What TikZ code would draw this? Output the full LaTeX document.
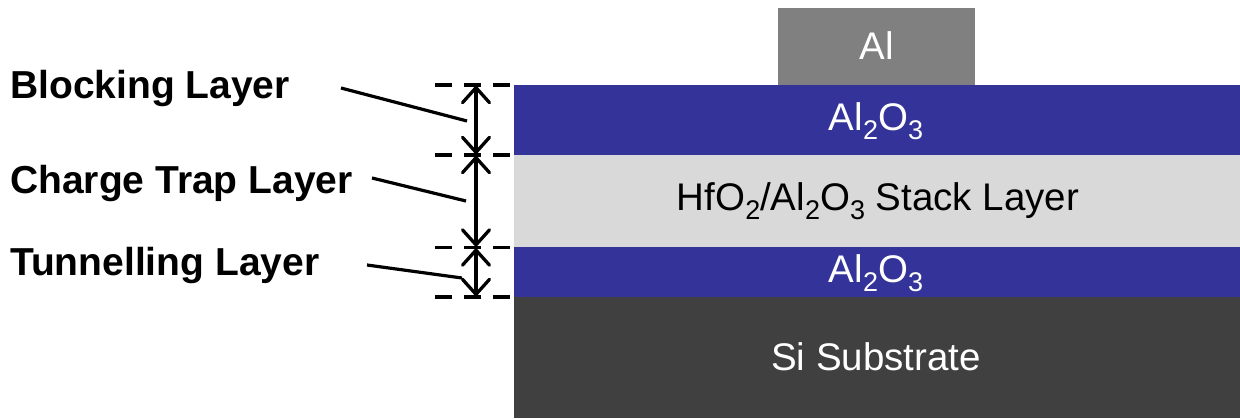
\documentclass[tikz,border=0pt]{standalone}
\usepackage{fontspec}
\setmainfont{Liberation Sans}
\usetikzlibrary{arrows.meta}
\definecolor{oxblue}{HTML}{333399}
\definecolor{stackgray}{HTML}{D9D9D9}
\definecolor{subgray}{HTML}{404040}
\definecolor{algray}{HTML}{808080}
\newcommand\lsub[1]{\raisebox{-0.25em}{\fontsize{27}{27}\selectfont #1}}
\tikzset{
  layer/.style={inner sep=0pt, outer sep=0pt, text=white, font=\fontsize{38.5}{40}\selectfont},
  lbl/.style={anchor=west, inner sep=0pt, font=\bfseries\fontsize{39}{41}\selectfont},
  dashline/.style={line width=3.6pt, dash pattern=on 17pt off 12pt},
  vhead/.tip={Straight Barb[length=15pt,width=27pt,line width=3.3pt,round]},
  dimarrow/.style={line width=3.2pt, vhead-vhead, shorten <=1pt, shorten >=1pt},
  leader/.style={line width=3.2pt}
}
\begin{document}
\begin{tikzpicture}[x=1pt,y=-1pt]
\useasboundingbox (0,0) rectangle (1240,418);
% layers
\fill[algray] (778,8) rectangle (975,85);
\fill[oxblue] (514,85) rectangle (1240,155);
\fill[stackgray] (514,155) rectangle (1240,247);
\fill[oxblue] (514,247) rectangle (1240,297);
\fill[subgray] (514,297) rectangle (1240,418);
\node[layer] (al) at (876.5,46) {Al};
\node[layer] (ox1) at (876,121) {Al\lsub{2}O\lsub{3}};
\node[layer, text=black] (stack) at (878,201) {HfO\lsub{2}/Al\lsub{2}O\lsub{3} Stack Layer};
\node[layer] (ox2) at (876,273) {Al\lsub{2}O\lsub{3}};
\node[layer] (si) at (876,357) {Si Substrate};
% dashed guides
\draw[dashline] (435,85) -- (510,85);
\draw[dashline] (435,155) -- (510,155);
\draw[dashline] (435,247.5) -- (510,247.5);
\draw[dashline] (435,297) -- (510,297);
% dimension arrows
\coordinate (t1) at (476,85); \coordinate (b1) at (476,155);
\coordinate (t2) at (476,155); \coordinate (b2) at (476,247.5);
\coordinate (t3) at (476,247.5); \coordinate (b3) at (476,297);
\draw[dimarrow] (t1) -- (b1);
\draw[dimarrow] (t2) -- (b2);
\draw[dimarrow] (t3) -- (b3);
% labels
\node[lbl] (blk) at (10,88) {Blocking Layer};
\node[lbl] (ctl) at (10,183) {Charge Trap Layer};
\node[lbl] (tun) at (10,265) {Tunnelling Layer};
\coordinate (s1) at (341,88); \coordinate (e1) at (467,121);
\coordinate (s2) at (372,178); \coordinate (e2) at (466,201);
\coordinate (s3) at (367,265); \coordinate (e3) at (462,278);
\draw[leader] (s1) -- (e1);
\draw[leader] (s2) -- (e2);
\draw[leader] (s3) -- (e3);
\end{tikzpicture}
\end{document}
